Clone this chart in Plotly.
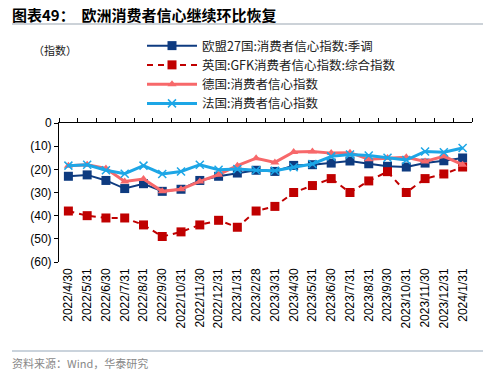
import plotly.graph_objects as go

categories = ["2022/4/30","2022/5/31","2022/6/30","2022/7/31","2022/8/31","2022/9/30",
              "2022/10/31","2022/11/30","2022/12/31","2023/1/31","2023/2/28","2023/3/31",
              "2023/4/30","2023/5/31","2023/6/30","2023/7/31","2023/8/31","2023/9/30",
              "2023/10/31","2023/11/30","2023/12/31","2024/1/31"]

eu27 = [-23.0, -22.4, -24.8, -28.3, -26.2, -29.5, -28.6, -24.8, -23.0, -21.6, -20.4, -20.9,
        -18.3, -18.0, -17.3, -16.4, -17.6, -18.7, -19.0, -17.3, -16.3, -15.1]
uk_gfk = [-38, -40, -41, -41, -44, -49, -47, -44, -42, -45, -38, -36,
          -30, -27, -24, -30, -25, -21, -30, -24, -22, -19]
germany = [-18.4, -18.0, -19.6, -25.2, -24.2, -29.5, -28.6, -25.2, -22.3, -18.4, -15.2, -17.0,
           -12.5, -12.3, -13.0, -12.8, -15.6, -15.1, -14.8, -16.6, -14.4, -18.0]
france = [-18.4, -18.0, -20.4, -21.9, -18.4, -22.0, -20.9, -18.0, -20.2, -19.9, -20.4, -20.6,
          -19.1, -17.7, -14.4, -13.6, -14.0, -15.0, -16.0, -12.3, -12.6, -10.8]

ytick_vals = [0, -10, -20, -30, -40, -50, -60]
ytick_text = ["0", "(10)", "(20)", "(30)", "(40)", "(50)", "(60)"]

names = ["欧盟27国:消费者信心指数:季调", "英国:GFK消费者信心指数:综合指数",
         "德国:消费者信心指数", "法国:消费者信心指数"]

NAVY = "#0E3B80"
RED = "#C00000"
PINK = "#F7686A"
BLUE = "#1DA6E6"

fig = go.Figure()
fig.add_trace(go.Scatter(x=categories, y=eu27, name=names[0], mode="lines+markers",
                         line=dict(color=NAVY, width=2),
                         marker=dict(symbol="square", size=9, color=NAVY)))
fig.add_trace(go.Scatter(x=categories, y=uk_gfk, name=names[1], mode="lines+markers",
                         line=dict(color=RED, width=2, dash="6px,5px"),
                         marker=dict(symbol="square", size=9, color=RED)))
fig.add_trace(go.Scatter(x=categories, y=germany, name=names[2], mode="lines+markers",
                         line=dict(color=PINK, width=3),
                         marker=dict(symbol="triangle-up", size=8, color=PINK)))
fig.add_trace(go.Scatter(x=categories, y=france, name=names[3], mode="lines+markers",
                         line=dict(color=BLUE, width=3),
                         marker=dict(symbol="x-thin", size=8, color=BLUE,
                                     line=dict(color=BLUE, width=1.5))))
# invisible trace to carry the top axis
fig.add_trace(go.Scatter(x=categories, y=[None]*len(categories), xaxis="x2",
                         showlegend=False, hoverinfo="skip", mode="lines"))

FONT = "Liberation Sans, Arial, Noto Sans CJK SC"
fig.update_layout(
    width=500, height=377,
    margin=dict(l=59, r=28, t=123, b=115, autoexpand=False),
    plot_bgcolor="white", paper_bgcolor="white",
    font=dict(family=FONT, size=11, color="#000000"),
    showlegend=True,
    legend=dict(x=83/413, y=1 + 92/139, yanchor="top",
                xanchor="left", orientation="v", bgcolor="rgba(0,0,0,0)",
                font=dict(family="Noto Sans CJK SC, Liberation Sans", size=12.5, color="#222"),
                itemwidth=50, tracegroupgap=0, traceorder="normal"),
    xaxis=dict(type="category", range=[-0.5, 21.5], showline=False, ticks="",
               showgrid=False, zeroline=False, tickangle=-90, tickmode="linear",
               tick0=0, dtick=1, ticklabelstandoff=3,
               tickfont=dict(family=FONT, size=12, color="#000")),
    xaxis2=dict(type="category", overlaying="x", side="top", matches="x",
                anchor="y", showline=True, linecolor="#000", linewidth=1,
                ticks="outside", ticklen=4, tickcolor="#000", tickson="boundaries",
                tickmode="linear", tick0=0, dtick=1,
                showticklabels=False, showgrid=False, zeroline=False),
    yaxis=dict(range=[-60, 0], tickvals=ytick_vals, ticktext=ytick_text,
               showline=True, linecolor="#000", linewidth=1, ticks="outside",
               ticklen=4, tickcolor="#000", showgrid=False, zeroline=False,
               tickfont=dict(family=FONT, size=12, color="#000")),
)

fig.add_annotation(text="<b>图表49：  欧洲消费者信心继续环比恢复</b>", xref="paper", yref="paper",
                   x=-49/413, y=1 + 108/139, xanchor="left", yanchor="middle", showarrow=False,
                   font=dict(family="Noto Sans CJK SC", size=15, color="#000"))
fig.add_annotation(text="（指数）", xref="paper", yref="paper",
                   x=-28/413, y=1 + 73/139, xanchor="left", yanchor="middle", showarrow=False,
                   font=dict(family="Noto Sans CJK SC", size=11, color="#222"))
fig.add_annotation(text="资料来源：Wind，华泰研究", xref="paper", yref="paper",
                   x=-49/413, y=-101/139, xanchor="left", yanchor="middle", showarrow=False,
                   font=dict(family="Noto Sans CJK SC, Liberation Sans", size=11, color="#888"))
fig.add_shape(type="line", xref="paper", yref="paper", x0=-47/413, x1=424/413,
              y0=1 + 99/139, y1=1 + 99/139, line=dict(color="#9AA5B1", width=1.2))
fig.add_shape(type="line", xref="paper", yref="paper", x0=-47/413, x1=424/413,
              y0=-89/139, y1=-89/139, line=dict(color="#B8C4D0", width=1.5))

fig.write_html("out.html", config={"displayModeBar": False},
               post_script="document.body.style.margin='0px';document.body.style.overflow='hidden';")
